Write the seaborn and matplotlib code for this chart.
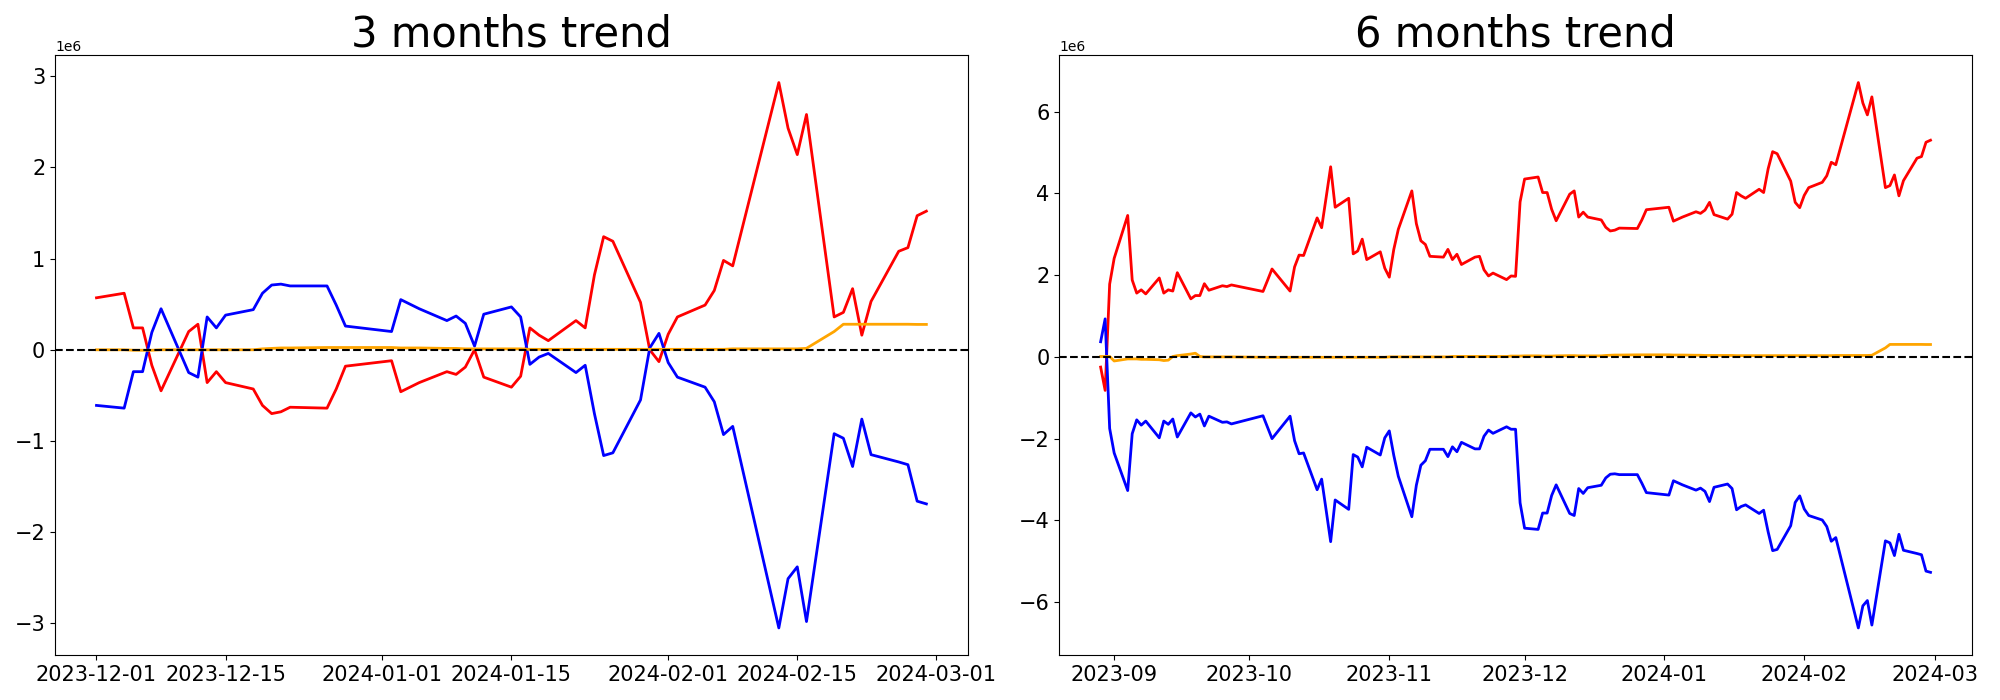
import numpy as np
import pandas as pd
import matplotlib
matplotlib.use("Agg")
import matplotlib.pyplot as plt
import matplotlib.dates as mdates
import seaborn as sns

# KRX market holidays inside the plotted range
KRX_HOLIDAYS = ["2023-09-28", "2023-09-29", "2023-10-02", "2023-10-03",
                "2023-10-09", "2023-12-25", "2023-12-29", "2024-01-01",
                "2024-02-09", "2024-02-12"]

dates_3m = pd.bdate_range("2023-12-01", "2024-02-29", freq="C", holidays=KRX_HOLIDAYS)
dates_6m = pd.bdate_range("2023-08-29", "2024-02-29", freq="C", holidays=KRX_HOLIDAYS)

# values in millions, one per trading day
red_3m = [
    0.57, 0.62, 0.24, 0.24, -0.17, -0.45, 0.20, 0.28, -0.36, -0.24, -0.36, -0.43, -0.61, -0.70, -0.68, -0.63, -0.64, -0.43, -0.18,
    -0.12, -0.46, -0.41, -0.36, -0.24, -0.27, -0.19, 0.00, -0.30, -0.41, -0.29, 0.24, 0.16, 0.10, 0.32, 0.24, 0.82, 1.24, 1.19, 0.52, 0.00, -0.13,
    0.17, 0.36, 0.49, 0.65, 0.98, 0.92, 2.93, 2.43, 2.14, 2.58, 0.36, 0.41, 0.67, 0.16, 0.53, 1.08, 1.12, 1.47, 1.52,
]
blue_3m = [
    -0.61, -0.64, -0.24, -0.24, 0.19, 0.45, -0.25, -0.30, 0.36, 0.24, 0.38, 0.44, 0.62, 0.71, 0.72, 0.70, 0.70, 0.49, 0.26,
    0.20, 0.55, 0.50, 0.45, 0.32, 0.37, 0.29, 0.04, 0.39, 0.47, 0.36, -0.16, -0.08, -0.04, -0.25, -0.17, -0.70, -1.16, -1.13, -0.55, 0.02, 0.18,
    -0.14, -0.30, -0.41, -0.57, -0.93, -0.84, -3.05, -2.51, -2.38, -2.98, -0.92, -0.97, -1.28, -0.76, -1.15, -1.23, -1.26, -1.66, -1.69,
]
orange_3m = [
    0.0, 0.0, -0.005, -0.005, -0.005, 0.0, 0.0, 0.0, 0.0, 0.0, 0.0, 0.0, 0.01, 0.015, 0.02, 0.02, 0.025, 0.025, 0.025,
    0.025, 0.02, 0.02, 0.02, 0.015, 0.015, 0.01, 0.01, 0.01, 0.01, 0.01, 0.005, 0.005, 0.005, 0.005, 0.005, 0.005, 0.005, 0.005, 0.005, 0.005, 0.005,
    0.005, 0.005, 0.005, 0.005, 0.005, 0.01, 0.01, 0.01, 0.01, 0.016, 0.20, 0.28, 0.28, 0.28, 0.28, 0.28, 0.28, 0.278, 0.278,
]

red_6m = [
    -0.25, -0.82, 1.78,
    2.41, 3.46, 1.88, 1.56, 1.64, 1.54, 1.93, 1.56, 1.64, 1.61, 2.06, 1.42, 1.50, 1.50, 1.79, 1.63, 1.74, 1.72, 1.76,
    1.60, 1.87, 2.15, 1.61, 2.20, 2.49, 2.48, 3.40, 3.16, 3.90, 4.65, 3.66, 3.88, 2.52, 2.59, 2.88, 2.38, 2.57, 2.17,
    1.95, 2.63, 3.12, 4.06, 3.26, 2.84, 2.75, 2.46, 2.44, 2.63, 2.38, 2.51, 2.26, 2.44, 2.46, 2.13, 1.98, 2.05, 1.89, 1.98, 1.97, 3.79,
    4.35, 4.40, 4.02, 4.02, 3.61, 3.33, 3.98, 4.06, 3.42, 3.54, 3.42, 3.35, 3.17, 3.08, 3.10, 3.15, 3.14, 3.35, 3.60,
    3.66, 3.32, 3.37, 3.42, 3.55, 3.51, 3.59, 3.78, 3.48, 3.37, 3.49, 4.02, 3.94, 3.88, 4.10, 4.02, 4.60, 5.02, 4.97, 4.30, 3.78, 3.65,
    3.95, 4.14, 4.27, 4.43, 4.76, 4.70, 6.71, 6.21, 5.92, 6.36, 4.14, 4.19, 4.45, 3.94, 4.31, 4.86, 4.90, 5.25, 5.30,
]
blue_6m = [
    0.37, 0.93, -1.75,
    -2.35, -3.27, -1.88, -1.54, -1.67, -1.57, -1.98, -1.57, -1.65, -1.52, -1.96, -1.37, -1.47, -1.40, -1.69, -1.45, -1.60, -1.59, -1.64,
    -1.44, -1.72, -2.00, -1.45, -2.05, -2.37, -2.35, -3.25, -2.99, -3.75, -4.52, -3.50, -3.73, -2.39, -2.45, -2.69, -2.21, -2.40, -1.98,
    -1.81, -2.41, -2.92, -3.91, -3.14, -2.65, -2.54, -2.26, -2.26, -2.44, -2.20, -2.32, -2.09, -2.25, -2.25, -1.94, -1.79, -1.87, -1.71, -1.77, -1.77, -3.57,
    -4.19, -4.22, -3.82, -3.82, -3.39, -3.13, -3.83, -3.88, -3.22, -3.34, -3.20, -3.14, -2.96, -2.87, -2.86, -2.88, -2.88, -3.09, -3.32,
    -3.38, -3.03, -3.08, -3.13, -3.26, -3.21, -3.29, -3.54, -3.19, -3.11, -3.22, -3.74, -3.66, -3.62, -3.83, -3.75, -4.28, -4.74, -4.71, -4.13, -3.56, -3.40,
    -3.72, -3.88, -3.99, -4.15, -4.51, -4.42, -6.63, -6.09, -5.96, -6.56, -4.50, -4.55, -4.86, -4.34, -4.73, -4.81, -4.84, -5.24, -5.27,
]
orange_6m = [
    0.01, 0.01, 0.01,
    -0.10, -0.05, -0.05, -0.05, -0.06, -0.06, -0.07, -0.09, -0.08, 0.01, 0.03, 0.07, 0.09, 0.01, 0.0, 0.0, 0.0, 0.0, 0.0,
    -0.01, -0.01, -0.01, -0.01, -0.01, -0.01, -0.01, -0.01, -0.01, -0.01, -0.01, -0.01, -0.01, -0.01, -0.01, -0.01, -0.01, -0.01, -0.01,
    0.0, 0.0, 0.0, 0.0, 0.0, 0.0, 0.0, 0.0, 0.0, 0.0, 0.01, 0.01, 0.01, 0.01, 0.01, 0.01, 0.01, 0.01, 0.01, 0.02, 0.02, 0.02,
    0.025, 0.025, 0.02, 0.02, 0.02, 0.025, 0.03, 0.03, 0.025, 0.025, 0.025, 0.025, 0.035, 0.04, 0.045, 0.045, 0.05, 0.05, 0.05,
    0.05, 0.045, 0.045, 0.045, 0.04, 0.04, 0.035, 0.035, 0.035, 0.035, 0.035, 0.03, 0.03, 0.03, 0.03, 0.03, 0.03, 0.03, 0.03, 0.03, 0.03, 0.03,
    0.03, 0.03, 0.03, 0.03, 0.03, 0.035, 0.035, 0.035, 0.035, 0.04, 0.22, 0.305, 0.305, 0.305, 0.305, 0.305, 0.305, 0.303, 0.303,
]


def draw_trend(ax, dates, red, blue, orange, title):
    for values, color in ((red, "red"), (blue, "blue"), (orange, "orange")):
        sns.lineplot(x=dates, y=np.asarray(values) * 1e6, ax=ax, color=color, linewidth=2)
    ax.axhline(0, color="black", linestyle="--", linewidth=1.5)
    ax.set_title(title, fontsize=30)
    ax.set_xlabel("")
    ax.set_ylabel("")
    ax.tick_params(labelsize=15)


fig, (ax1, ax2) = plt.subplots(1, 2, figsize=(20, 7), dpi=100)
fig.subplots_adjust(left=0.0275, right=0.986, bottom=0.064, top=0.921, wspace=0.1)

draw_trend(ax1, dates_3m, red_3m, blue_3m, orange_3m, "3 months trend")
ax1.xaxis.set_major_locator(mdates.DayLocator(bymonthday=[1, 15]))
ax1.xaxis.set_major_formatter(mdates.DateFormatter("%Y-%m-%d"))

draw_trend(ax2, dates_6m, red_6m, blue_6m, orange_6m, "6 months trend")
ax2.xaxis.set_major_locator(mdates.MonthLocator())
ax2.xaxis.set_major_formatter(mdates.DateFormatter("%Y-%m"))

fig.savefig("out.png")
